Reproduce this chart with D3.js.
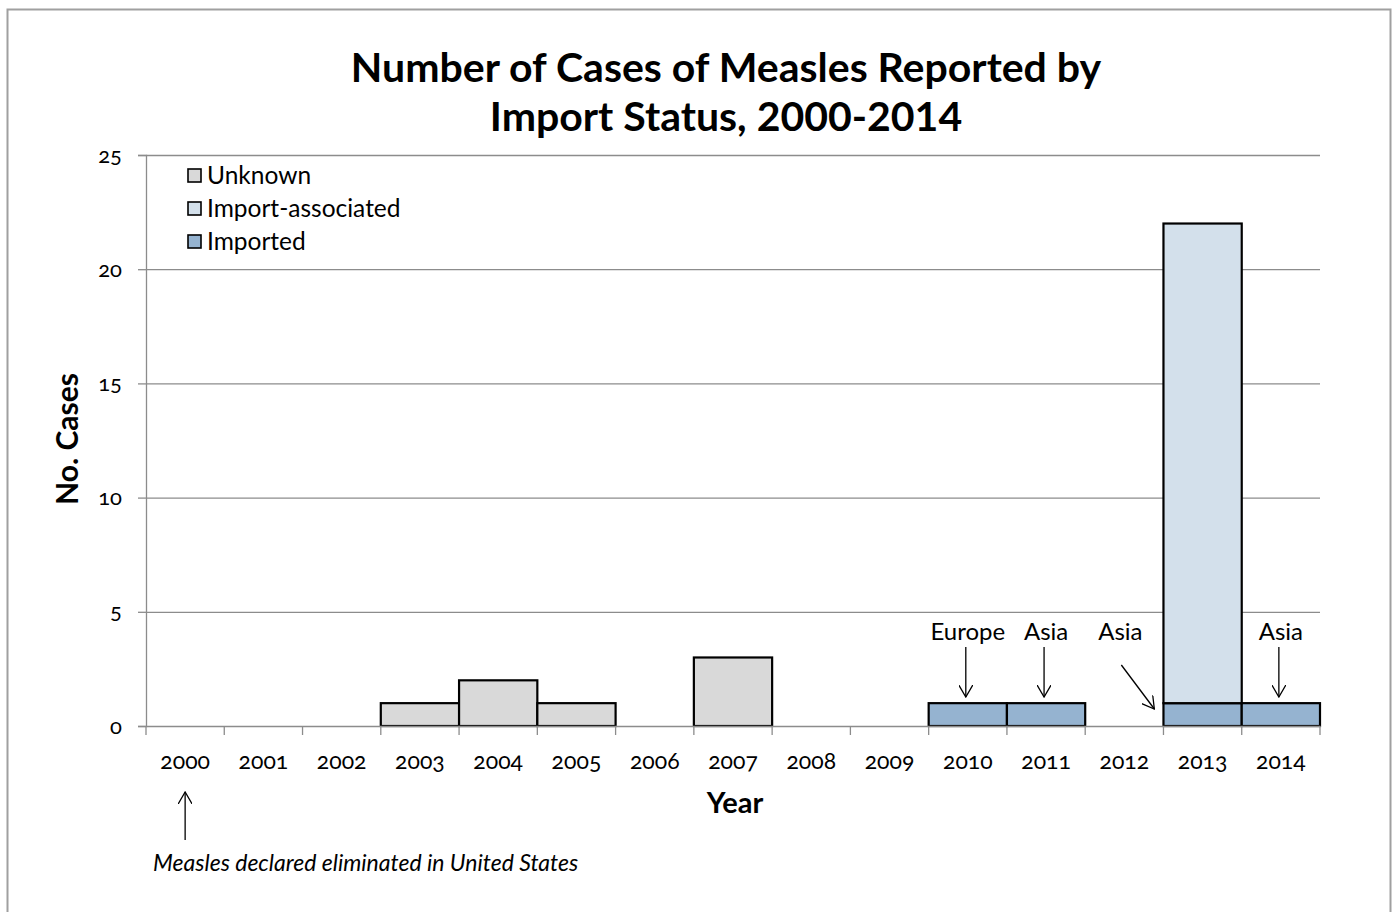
<!DOCTYPE html>
<html>
<head>
<meta charset="utf-8">
<script src="https://cdn.jsdelivr.net/npm/d3@7"></script>
<style>
  body { margin: 0; background: #fff; }
  text { font-family: Lato, "Open Sans", sans-serif; fill: #000; }
</style>
</head>
<body>
<svg id="chart" width="1394" height="912"></svg>
<script>
// data
var years = ["2000","2001","2002","2003","2004","2005","2006","2007","2008","2009","2010","2011","2012","2013","2014"];
var imported        = [0,0,0,0,0,0,0,0,0,0,1,1,0,1,1];
var importAssociated = [0,0,0,0,0,0,0,0,0,0,0,0,0,21,0];
var unknown         = [0,0,0,1,2,1,0,3,0,0,0,0,0,0,0];
var seriesNames = ["Imported","Import-associated","Unknown"];
var seriesColors = ["#95b3d0","#d3e0eb","#d9d9d9"];
var yTicks = [0,5,10,15,20,25];
var notes = [
  { year: "2010", label: "Europe", dir: "down" },
  { year: "2011", label: "Asia", dir: "down" },
  { year: "2012", label: "Asia", dir: "diag" },
  { year: "2014", label: "Asia", dir: "down" }
];

var svg = d3.select("#chart");
var margin = { left: 146, right: 74, top: 155, bottom: 186 };
var W = 1394, H = 912;

// outer frame
svg.append("rect").attr("x", 7.5).attr("y", 9.5).attr("width", 1383).attr("height", 910)
  .attr("fill", "none").attr("stroke", "#a0a0a0").attr("stroke-width", 2);

var x = d3.scaleBand().domain(years).range([margin.left, W - margin.right]).padding(0);
var y = d3.scaleLinear().domain([0, 25]).range([H - margin.bottom, margin.top]);

// gridlines
svg.append("g").selectAll("line").data(yTicks.slice(1)).enter().append("line")
  .attr("x1", margin.left).attr("x2", W - margin.right)
  .attr("y1", function (d) { return y(d) + 0.5; }).attr("y2", function (d) { return y(d) + 0.5; })
  .attr("stroke", "#8c8c8c").attr("stroke-width", 1.3);

// bars
var table = years.map(function (yr, i) {
  return { year: yr, "Imported": imported[i], "Import-associated": importAssociated[i], "Unknown": unknown[i] };
});
var stacked = d3.stack().keys(seriesNames)(table);

svg.append("g").selectAll("g").data(stacked).enter().append("g")
  .attr("fill", function (d, i) { return seriesColors[i]; })
  .selectAll("rect").data(function (d) { return d.filter(function (p) { return p[1] > p[0]; }); })
  .enter().append("rect")
  .attr("x", function (d) { return x(d.data.year); })
  .attr("y", function (d) { return y(d[1]); })
  .attr("width", x.bandwidth())
  .attr("height", function (d) { return y(d[0]) - y(d[1]); })
  .attr("stroke", "#000").attr("stroke-width", 2.2);

// y axis
var yAxis = svg.append("g").attr("transform", "translate(" + margin.left + ",0)")
  .call(d3.axisLeft(y).tickValues(yTicks).tickSize(8).tickPadding(16));
yAxis.select(".domain").attr("stroke", "#8c8c8c").attr("stroke-width", 1.3);
yAxis.selectAll(".tick line").attr("stroke", "#8c8c8c").attr("stroke-width", 1.3);
yAxis.selectAll(".tick text").attr("font-size", 22).style("font-variant-numeric", "oldstyle-nums");

// x axis
var xAxis = svg.append("g").attr("transform", "translate(0," + y(0) + ")")
  .call(d3.axisBottom(x).tickSize(0).tickPadding(27));
xAxis.select(".domain").attr("stroke", "#8c8c8c").attr("stroke-width", 1.3);
xAxis.selectAll(".tick text").attr("font-size", 23).style("font-variant-numeric", "oldstyle-nums");
xAxis.selectAll("line.sep").data(years.concat(["end"])).enter().append("line")
  .attr("class", "sep")
  .attr("x1", function (d, i) { return margin.left + i * x.step(); })
  .attr("x2", function (d, i) { return margin.left + i * x.step(); })
  .attr("y1", 0).attr("y2", 9)
  .attr("stroke", "#8c8c8c").attr("stroke-width", 1.3);

// titles
var title = svg.append("text").attr("text-anchor", "middle").attr("font-weight", "bold").attr("font-size", 41);
title.append("tspan").attr("x", 726).attr("y", 82).text("Number of Cases of Measles Reported by");
title.append("tspan").attr("x", 726).attr("y", 131).text("Import Status, 2000-2014");

svg.append("text").attr("transform", "translate(78,439) rotate(-90)")
  .attr("text-anchor", "middle").attr("font-weight", "bold").attr("font-size", 30).text("No. Cases");
svg.append("text").attr("x", 735).attr("y", 813)
  .attr("text-anchor", "middle").attr("font-weight", "bold").attr("font-size", 29).text("Year");

// legend
var legendOrder = ["Unknown","Import-associated","Imported"];
var lg = svg.append("g").selectAll("g").data(legendOrder).enter().append("g")
  .attr("transform", function (d, i) { return "translate(188," + (169 + i * 33) + ")"; });
lg.append("rect").attr("width", 13).attr("height", 13)
  .attr("fill", function (d) { return seriesColors[seriesNames.indexOf(d)]; })
  .attr("stroke", "#000").attr("stroke-width", 1.6);
lg.append("text").attr("x", 19).attr("y", 15).attr("font-size", 24.5).text(function (d) { return d; });

// arrow marker
svg.append("defs").append("marker").attr("id", "arrow")
  .attr("viewBox", "0 -7 13 14").attr("refX", 12).attr("refY", 0)
  .attr("markerWidth", 13).attr("markerHeight", 14).attr("markerUnits", "userSpaceOnUse")
  .attr("orient", "auto")
  .append("path").attr("d", "M0,-7L12,0L0,7").attr("fill", "none").attr("stroke", "#000").attr("stroke-width", 1.3);

// annotations
var ng = svg.append("g").selectAll("g").data(notes).enter().append("g");
ng.append("text")
  .attr("x", function (d) { return x(d.year) + x.bandwidth() / 2 + (d.dir === "diag" ? -4 : 0); })
  .attr("y", 640).attr("text-anchor", "middle").attr("font-size", 24)
  .text(function (d) { return d.label; });
ng.append("line")
  .attr("x1", function (d) { var c = x(d.year) + x.bandwidth() / 2; return d.dir === "diag" ? c - 3 : c - 2; })
  .attr("x2", function (d) { var c = x(d.year) + x.bandwidth() / 2; return d.dir === "diag" ? c + 30 : c - 2; })
  .attr("y1", function (d) { return d.dir === "diag" ? 665 : 647; })
  .attr("y2", function (d) { return d.dir === "diag" ? 709 : 697; })
  .attr("stroke", "#000").attr("stroke-width", 1.3).attr("marker-end", "url(#arrow)");

// elimination note
var c0 = x("2000") + x.bandwidth() / 2;
svg.append("line").attr("x1", c0).attr("x2", c0).attr("y1", 840).attr("y2", 792)
  .attr("stroke", "#000").attr("stroke-width", 1.3).attr("marker-end", "url(#arrow)");
svg.append("text").attr("x", 153).attr("y", 871).attr("font-size", 23).attr("font-style", "italic")
  .text("Measles declared eliminated in United States");
</script>
</body>
</html>
